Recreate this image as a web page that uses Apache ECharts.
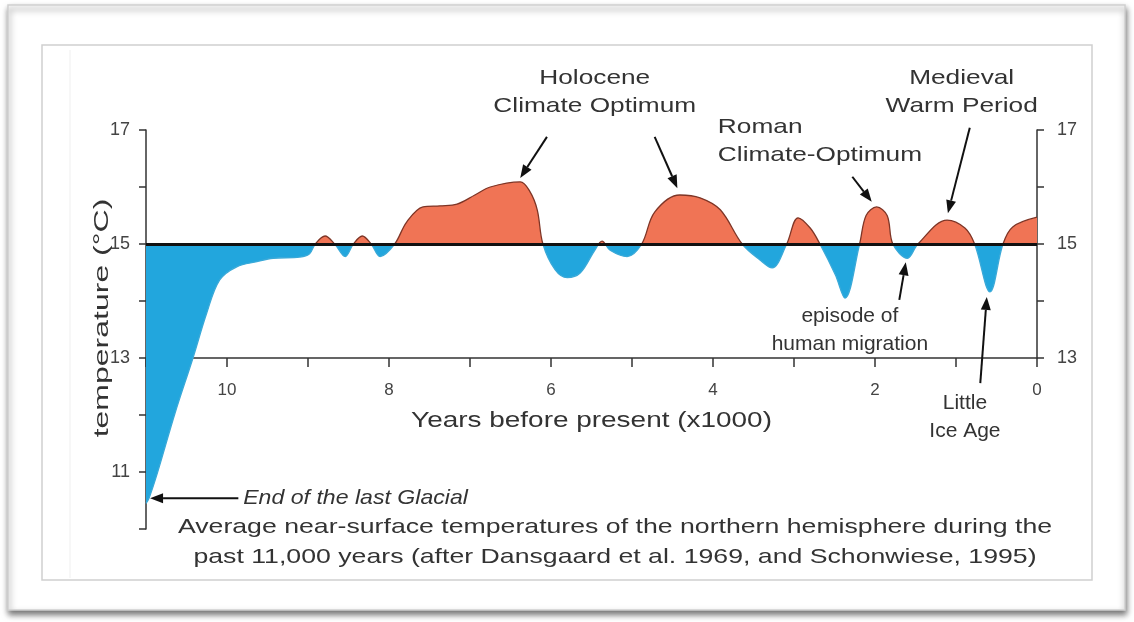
<!DOCTYPE html>
<html><head><meta charset="utf-8">
<script src="https://cdn.jsdelivr.net/npm/echarts@6/dist/echarts.min.js"></script>
<style>html,body{margin:0;padding:0;background:#fff}#c{width:1134px;height:622px}</style>
</head><body><div id="c"></div>
<script>
// thousands of years before present
const yearsBP = [11.00,10.96,10.86,10.64,10.42,10.25,10.09,9.88,9.63,9.43,9.10,8.98,8.91,8.79,8.67,8.54,8.44,8.33,8.22,8.11,7.93,7.78,7.58,7.37,7.16,6.94,6.75,6.38,6.26,6.17,6.10,5.95,5.80,5.64,5.46,5.37,5.27,5.06,4.88,4.72,4.41,4.16,3.91,3.64,3.42,3.27,3.09,2.95,2.80,2.68,2.49,2.37,2.19,2.11,1.98,1.85,1.78,1.60,1.47,1.11,0.89,0.77,0.58,0.42,0.30,0.00];
// temperature in °C
const tempC = [10.45,10.55,10.98,12.04,13.00,13.79,14.37,14.60,14.69,14.75,14.77,14.83,15.00,15.14,15.00,14.78,15.00,15.14,15.00,14.78,15.00,15.39,15.65,15.67,15.70,15.86,16.00,16.09,15.92,15.60,15.00,14.55,14.41,14.49,14.89,15.05,14.89,14.78,15.00,15.56,15.86,15.81,15.60,15.00,14.72,14.58,15.00,15.46,15.28,15.00,14.46,14.05,15.00,15.50,15.65,15.50,15.00,14.75,15.00,15.42,15.28,15.00,14.16,15.00,15.30,15.47];
const xLabels = [0,2,4,6,8,10];
const leftLabels = [11,13,15,17];
const rightLabels = [13,15,17];
const baseline = 15;
const xTitle = 'Years before present (x1000)';
const yTitle = 'temperature (°C)';
const noteTexts = ['Holocene\nClimate Optimum','Roman\nClimate-Optimum','Medieval\nWarm Period','episode of\nhuman migration','Little\nIce Age','End of the last Glacial'];
const noteAt = [[5.46,17.67],[3.94,16.81],[0.93,17.67],[2.31,13.49],[0.89,11.97],[9.80,10.54]];
const arrowFrom = [[6.05,16.88],[4.72,16.88],[2.28,16.18],[0.83,17.04],[1.70,14.02],[0.70,12.56],[9.86,10.54]];
const arrowTo   = [[6.38,16.16],[4.44,15.98],[2.04,15.74],[1.10,15.54],[1.62,14.68],[0.62,14.07],[10.95,10.54]];
const caption = ['Average near-surface temperatures of the northern hemisphere during the','past 11,000 years (after Dansgaard et al. 1969, and Schonwiese, 1995)'];

const FONT = '"Liberation Sans", Arial, sans-serif';
const TXT = '#333';
const RED = '#F07455', BLUE = '#22A6DD';
const chart = echarts.init(document.getElementById('c'));
const pts = yearsBP.map((x,i)=>[x,tempC[i]]);
const axisLineStyle = {color:'#333',width:1.5};
chart.setOption({
  animation:false,
  grid:[{left:146,right:97,top:130,bottom:93},{left:146,right:97,top:130,bottom:264}],
  xAxis:[
    {type:'value',gridIndex:0,min:0,max:11,inverse:true,show:false},
    {type:'value',gridIndex:1,min:0,max:11,interval:1,inverse:true,position:'bottom',
     axisLine:{show:true,onZero:false,lineStyle:axisLineStyle},
     axisTick:{show:true,length:9,lineStyle:axisLineStyle},
     splitLine:{show:false},
     axisLabel:{color:'#444',fontSize:17,margin:24,fontFamily:FONT,formatter:v=>xLabels.includes(v)?String(v):''}}
  ],
  yAxis:[
    {type:'value',gridIndex:0,min:10,max:17,interval:1,position:'left',
     axisLine:{show:true,onZero:false,lineStyle:axisLineStyle},
     axisTick:{show:true,length:7,lineStyle:axisLineStyle},
     splitLine:{show:false},
     axisLabel:{color:'#444',fontSize:18,margin:16,fontFamily:FONT,formatter:v=>leftLabels.includes(v)?String(v):''}},
    {type:'value',gridIndex:1,min:13,max:17,interval:1,position:'right',
     axisLine:{show:true,onZero:false,lineStyle:axisLineStyle},
     axisTick:{show:true,length:7,lineStyle:axisLineStyle},
     splitLine:{show:false},
     axisLabel:{color:'#444',fontSize:18,margin:20,fontFamily:FONT,formatter:v=>rightLabels.includes(v)?String(v):''}}
  ]
});

const toPx = p => chart.convertToPixel({xAxisIndex:0,yAxisIndex:0},p);
const yTop = toPx([0,17])[1], yBot = toPx([0,10])[1], yBase = toPx([0,baseline])[1];
const off = (yBase - yTop)/(yBot - yTop);
const split = (a,b) => new echarts.graphic.LinearGradient(0,yTop,0,yBot,[
  {offset:0,color:a},{offset:off,color:a},{offset:off,color:b},{offset:1,color:b}],true);

chart.setOption({
  series:[
    {type:'line',xAxisIndex:0,yAxisIndex:0,data:pts,smooth:0.35,symbol:'none',z:2,
     lineStyle:{width:0},areaStyle:{origin:baseline,opacity:1,color:split(RED,BLUE)}},
    {type:'line',xAxisIndex:0,yAxisIndex:0,data:pts,smooth:0.35,symbol:'none',z:3,
     lineStyle:{width:1.3,color:split('#7e3526','#3aa9d8')},
     markLine:{silent:true,symbol:'none',label:{show:false},
       lineStyle:{color:'#111',width:3,type:'solid'},data:[{yAxis:baseline}]}}
  ]
});

const g = [];
g.push({type:'rect',z:-10,shape:{x:8,y:5,width:1117,height:605},
  style:{fill:'#fff',stroke:'#cfcfcf',lineWidth:1.5,shadowBlur:6,shadowOffsetY:4,shadowOffsetX:1,shadowColor:'rgba(0,0,0,0.55)'}});
g.push({type:'rect',z:-9,shape:{x:42,y:45,width:1050,height:535},style:{fill:'none',stroke:'#d0d0d0',lineWidth:1.5}});
g.push({type:'line',z:-9,shape:{x1:70,y1:50,x2:70,y2:578},style:{stroke:'#efefef',lineWidth:1}});

// axis titles
const xMid = (toPx([0,10])[0] + toPx([11,10])[0]) / 2;
g.push({type:'text',z:100,x:xMid,y:421,scaleX:1.27,
  style:{text:xTitle,fill:TXT,font:'22px '+FONT,align:'center',verticalAlign:'middle'}});
g.push({type:'text',z:100,x:102,y:318,rotation:Math.PI/2,scaleX:1.6,
  style:{text:yTitle,fill:TXT,font:'20px '+FONT,align:'center',verticalAlign:'middle'}});

const aligns = ['center','left','center','center','center','left'];
const scales = [1.25,1.25,1.25,1.0,1.0,1.1];
noteTexts.forEach((t,i)=>{
  const p = toPx(noteAt[i]);
  g.push({type:'text',z:100,x:p[0],y:p[1],scaleX:scales[i],
    style:{text:t,fill:TXT,font:(i===5?'italic ':'')+'21px '+FONT,align:aligns[i],verticalAlign:'middle',lineHeight:28}});
});
arrowFrom.forEach((f,i)=>{
  const a = toPx(f), b = toPx(arrowTo[i]);
  const dx=b[0]-a[0], dy=b[1]-a[1], L=Math.hypot(dx,dy), ux=dx/L, uy=dy/L;
  const hl=13, hw=5;
  const bx=b[0]-ux*hl, by=b[1]-uy*hl;
  g.push({type:'line',z:100,shape:{x1:a[0],y1:a[1],x2:bx,y2:by},style:{stroke:'#111',lineWidth:2}});
  g.push({type:'polygon',z:100,shape:{points:[[b[0],b[1]],[bx-uy*hw,by+ux*hw],[bx+uy*hw,by-ux*hw]]},style:{fill:'#111'}});
});
caption.forEach((t,i)=>{
  g.push({type:'text',z:100,x:615,y:527+i*30,scaleX:1.27,
    style:{text:t,fill:TXT,font:'21px '+FONT,align:'center',verticalAlign:'middle'}});
});
chart.setOption({graphic:g});
</script></body></html>
